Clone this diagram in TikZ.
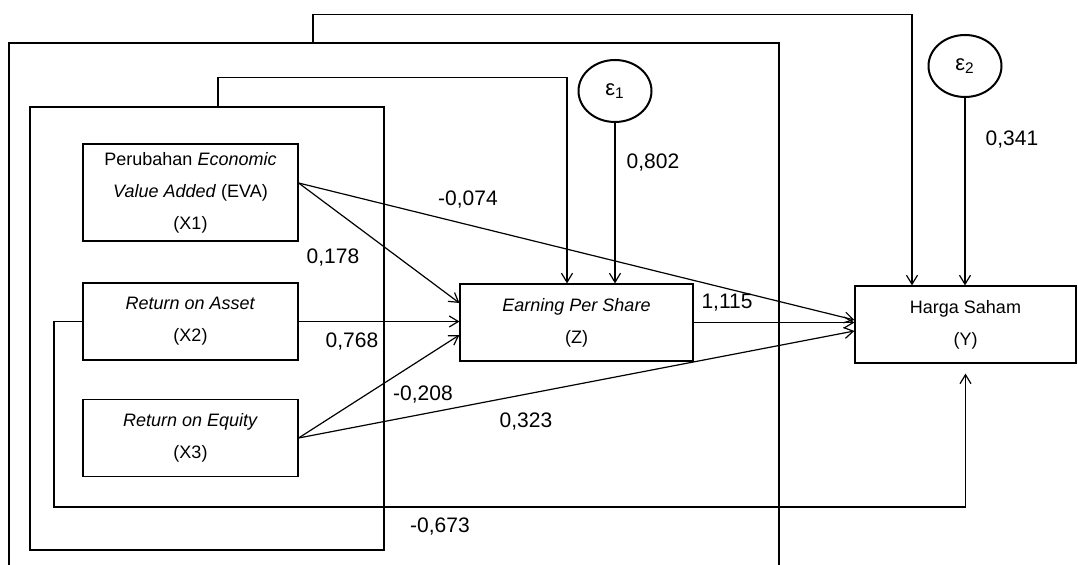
\documentclass[tikz,border=0pt]{standalone}
\usepackage{fontspec}
\setmainfont{Liberation Sans}
\usetikzlibrary{arrows.meta,shapes.geometric}

\begin{document}
\begin{tikzpicture}[x=0.5pt,y=-0.5pt,line width=0.6pt,>={Straight Barb[length=4.5pt,width=5.5pt]},
    var/.style={draw,inner sep=0pt,align=center,font=\fontsize{9}{16}\selectfont,minimum height=38.5pt},
    err/.style={draw,ellipse,line width=1pt,inner sep=0pt,minimum width=36.5pt,minimum height=31pt,font=\fontsize{11}{13}\selectfont},
    grp/.style={draw,line width=0.8pt,inner sep=0pt},
    coef/.style={font=\fontsize{10.5}{12}\selectfont,inner sep=0pt}]
    \clip (0,0) rectangle (1078,565);
    % group frames
    \node[grp,minimum width=385pt,minimum height=278.5pt] (fb) at (394,321.5) {};
    \node[grp,minimum width=177pt,minimum height=221.5pt] (fa) at (207,328.5) {};
    % variables
    \node[var,minimum width=107.5pt,minimum height=48.5pt] (x1) at (190.5,192.5) {Perubahan \textit{Economic}\\\textit{Value Added} (EVA)\\(X1)};
    \node[var,minimum width=107.5pt] (x2) at (190.5,321.5) {\textit{Return on Asset}\\(X2)};
    \node[var,minimum width=107.5pt] (x3) at (190.5,438) {\textit{Return on Equity}\\(X3)};
    \node[var,minimum width=116.5pt] (z) at (576.5,322.5) {\textit{Earning Per Share}\\(Z)};
    \node[var,minimum width=110.5pt] (y) at (965.5,324.5) {Harga Saham\\(Y)};
    \node[err] (e1) at (615,91) {ε\textsubscript{1}};
    \node[err] (e2) at (965,66) {ε\textsubscript{2}};
    \coordinate (bend) at (54,507);
    % paths
    \draw[->] ([yshift=4.75pt]x1.east) -- ([yshift=9.75pt]z.west);
    \draw[->] ([yshift=4.75pt]x1.east) -- ([yshift=2.25pt]y.west);
    \draw[->] (x2.east) -- (x2.east -| z.west);
    \draw[->] (x3.east) -- ([yshift=-6.25pt]z.west);
    \draw[->] (x3.east) -- ([yshift=-3.25pt]y.west);
    \draw[->] (z.east) -- (z.east -| y.west);
    \draw[->] (x2.west) -| (bend) -| ([yshift=-5pt]y.south);
    \draw[->] (e1) -- (e1 |- z.north);
    \draw[->] (e2) -- (e2 |- y.north);
    \draw[->] ([xshift=5.5pt]fa.north) -- ++(0,-29) -| ([xshift=-4.75pt]z.north);
    \draw[->] ([xshift=-40.5pt]fb.north) -- ++(0,-28) -| ([xshift=-26.75pt]y.north);
    % coefficients
    \node[coef] (c1) at (468,200) {-0,074};
    \node[coef] (c2) at (333,258) {0,178};
    \node[coef] (c3) at (352,342) {0,768};
    \node[coef] (c4) at (423,395) {-0,208};
    \node[coef] (c5) at (526,422) {0,323};
    \node[coef] (c6) at (440,527) {-0,673};
    \node[coef] (c7) at (727,303) {1,115};
    \node[coef] (c8) at (653,163) {0,802};
    \node[coef] (c9) at (1012,140) {0,341};
\end{tikzpicture}
\end{document}
